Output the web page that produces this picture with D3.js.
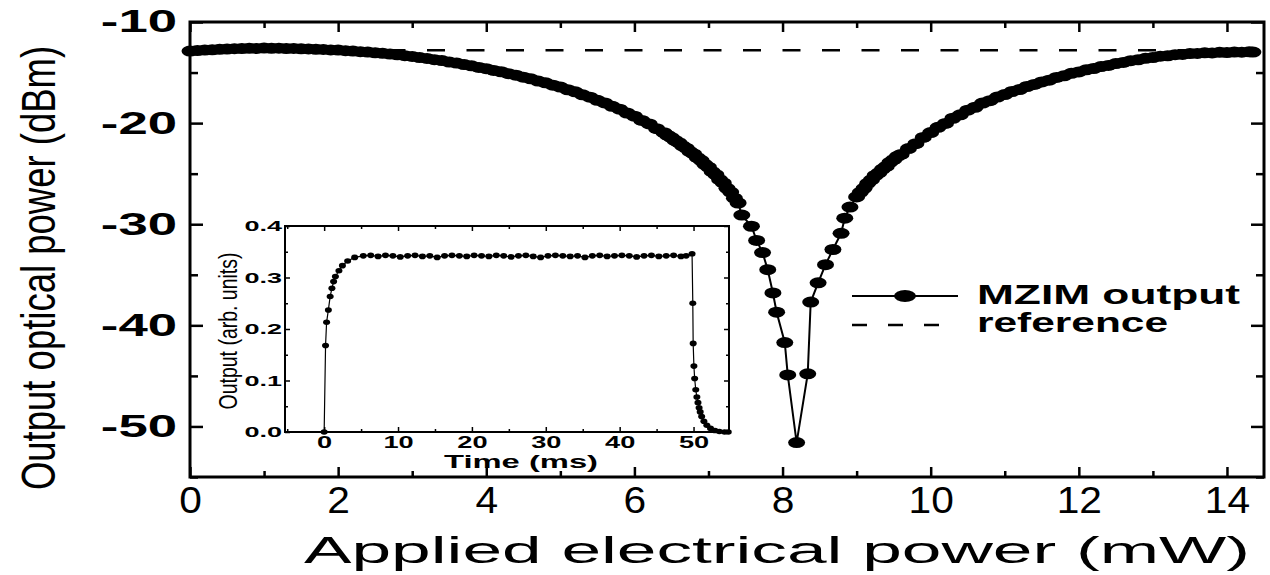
<!DOCTYPE html>
<html>
<head>
<meta charset="utf-8">
<script src="https://cdn.jsdelivr.net/npm/d3@7"></script>
<style>
  html, body { margin: 0; padding: 0; background: #fff; }
  svg { display: block; }
  text { font-family: "Liberation Sans", Arial, Helvetica, sans-serif; fill: #000; }
</style>
</head>
<body>
<svg id="chart" width="1270" height="575"></svg>
<script>
// ---- main sweep: MZIM output vs applied electrical power ----
const powerMW = [
  0.0, 0.1, 0.2, 0.3, 0.4, 0.5, 0.6, 0.7, 0.8, 0.9,
  1.0, 1.1, 1.2, 1.3, 1.4, 1.5, 1.6, 1.7, 1.8, 1.9,
  2.0, 2.1, 2.2, 2.3, 2.4, 2.5, 2.6, 2.7, 2.8, 2.9,
  3.0, 3.1, 3.2, 3.3, 3.4, 3.5, 3.6, 3.7, 3.8, 3.9,
  4.0, 4.1, 4.2, 4.3, 4.4, 4.5, 4.6, 4.7, 4.8, 4.9,
  5.0, 5.1, 5.2, 5.3, 5.4, 5.5, 5.6, 5.7, 5.8, 5.9,
  6.0, 6.1, 6.2, 6.3, 6.4, 6.45, 6.5, 6.55, 6.6, 6.65,
  6.7, 6.75, 6.8, 6.85, 6.9, 6.95, 7.0, 7.05, 7.1, 7.15,
  7.2, 7.25, 7.3, 7.35, 7.4, 7.45, 7.58, 7.65, 7.73, 7.80,
  7.87, 7.92, 8.03, 8.07, 8.19, 8.34, 8.38, 8.48, 8.58, 8.68,
  8.79, 8.84, 8.91, 9.00, 9.05, 9.1, 9.15, 9.2, 9.25, 9.3,
  9.35, 9.4, 9.45, 9.5, 9.55, 9.6, 9.7, 9.8, 9.9, 10.0,
  10.1, 10.2, 10.3, 10.4, 10.5, 10.6, 10.7, 10.8, 10.9, 11.0,
  11.1, 11.2, 11.3, 11.4, 11.5, 11.6, 11.7, 11.8, 11.9, 12.0,
  12.1, 12.2, 12.3, 12.4, 12.5, 12.6, 12.7, 12.8, 12.9, 13.0,
  13.1, 13.2, 13.3, 13.4, 13.5, 13.6, 13.7, 13.8, 13.9, 14.0,
  14.1, 14.2, 14.3, 14.35
];
const outputDbm = [
  -12.88, -12.82, -12.78, -12.75, -12.70, -12.68, -12.64, -12.63, -12.60, -12.61,
  -12.58, -12.60, -12.59, -12.62, -12.61, -12.65, -12.66, -12.70, -12.71, -12.76,
  -12.78, -12.84, -12.87, -12.93, -12.97, -13.04, -13.09, -13.17, -13.24, -13.33,
  -13.41, -13.52, -13.60, -13.73, -13.82, -13.96, -14.06, -14.21, -14.33, -14.49,
  -14.62, -14.79, -14.92, -15.11, -15.26, -15.46, -15.62, -15.84, -16.02, -16.25,
  -16.44, -16.70, -16.91, -17.20, -17.43, -17.75, -18.00, -18.34, -18.62, -19.00,
  -19.32, -19.73, -20.08, -20.55, -20.95, -21.22, -21.43, -21.72, -21.93, -22.25,
  -22.48, -22.82, -23.05, -23.42, -23.68, -24.08, -24.36, -24.80, -25.10, -25.58,
  -25.92, -26.45, -26.82, -27.42, -27.90, -29.1, -30.2, -31.6, -32.8, -34.5,
  -36.8, -38.7, -41.7, -44.9, -51.6, -44.8, -37.7, -35.8, -34.0, -32.5,
  -30.9, -29.4, -28.3, -27.3, -26.85, -26.45, -25.95, -25.62, -25.18, -24.92,
  -24.55, -24.28, -23.88, -23.62, -23.28, -23.10, -22.52, -22.03, -21.42, -20.93,
  -20.42, -20.03, -19.52, -19.18, -18.72, -18.43, -18.02, -17.78, -17.42, -17.18,
  -16.87, -16.68, -16.38, -16.17, -15.93, -15.75, -15.48, -15.32, -15.08, -14.94,
  -14.73, -14.60, -14.41, -14.30, -14.11, -14.00, -13.83, -13.74, -13.59, -13.52,
  -13.38, -13.34, -13.23, -13.21, -13.12, -13.11, -13.05, -13.06, -13.00, -13.02,
  -12.97, -12.99, -12.95, -12.97
];
const referenceDbm = -12.8;

// ---- inset: switching transient ----
const timeMs = [
  0, 0.19, 0.33, 0.57, 0.81, 1.05, 1.28, 1.52, 2.0, 2.47,
  3.18, 4.13, 5.3, 6.3, 7.3, 8.3, 9.3, 10.3, 11.3, 12.3,
  13.3, 14.3, 15.3, 16.3, 17.3, 18.3, 19.3, 20.3, 21.3, 22.3,
  23.3, 24.3, 25.3, 26.3, 27.3, 28.3, 29.3, 30.3, 31.3, 32.3,
  33.3, 34.3, 35.3, 36.3, 37.3, 38.3, 39.3, 40.3, 41.3, 42.3,
  43.3, 44.3, 45.3, 46.3, 47.3, 48.3, 49.0, 49.8, 49.9, 49.95,
  50.05, 50.15, 50.3, 50.45, 50.6, 50.75, 50.9, 51.1, 51.4, 51.8,
  52.3, 52.9, 53.5, 54.2, 54.7
];
const outputArb = [
  0, 0.168, 0.213, 0.237, 0.263, 0.279, 0.292, 0.302, 0.313, 0.323,
  0.332, 0.339, 0.342, 0.343, 0.341, 0.343, 0.342, 0.340, 0.342, 0.343,
  0.341, 0.342, 0.339, 0.342, 0.343, 0.342, 0.341, 0.343, 0.342, 0.341,
  0.343, 0.342, 0.340, 0.342, 0.343, 0.341, 0.339, 0.342, 0.343, 0.342,
  0.341, 0.342, 0.339, 0.342, 0.343, 0.341, 0.342, 0.343, 0.342, 0.340,
  0.342, 0.343, 0.341, 0.342, 0.343, 0.341, 0.342, 0.346, 0.250, 0.172,
  0.128, 0.104, 0.082, 0.068, 0.057, 0.047, 0.039, 0.030, 0.021, 0.013,
  0.007, 0.003, 0.001, 0.0, 0.0
];

// ---- tick values and labels ----
const powerTicks = [0, 2, 4, 6, 8, 10, 12, 14];
const powerMinorTicks = [1, 3, 5, 7, 9, 11, 13];
const dbmTicks = [-10, -20, -30, -40, -50];
const dbmMinorTicks = [-15, -25, -35, -45, -55];
const timeTicks = [0, 10, 20, 30, 40, 50];
const timeMinorTicks = [-5, 5, 15, 25, 35, 45];
const arbTicks = [0, 0.1, 0.2, 0.3, 0.4];
const arbMinorTicks = [0.05, 0.15, 0.25, 0.35];
const legendLabels = ["MZIM output", "reference"];
const xTitle = "Applied electrical power (mW)";
const yTitle = "Output optical power (dBm)";
const insetXTitle = "Time (ms)";
const insetYTitle = "Output (arb. units)";

const svg = d3.select("#chart");
svg.append("rect").attr("width", 1270).attr("height", 575).attr("fill", "#fff");

// widen a text element's glyphs by factor k
function widen(sel, k) {
  sel.each(function () {
    const w = this.getComputedTextLength();
    d3.select(this).attr("textLength", w * k).attr("lengthAdjust", "spacingAndGlyphs");
  });
}

// ================= main plot =================
const frame = { left: 190, right: 1264, top: 22, bottom: 477 };
const x = d3.scaleLinear().domain([0, 14.5]).range([frame.left, frame.right]);
const y = d3.scaleLinear().domain([-55, -10]).range([frame.bottom, frame.top]);

function styleAxis(g, width) {
  g.select(".domain").remove();
  g.selectAll(".tick line").attr("stroke", "#000").attr("stroke-width", width);
}

// bottom axis: majors with labels, minors without
const gxMinor = svg.append("g").attr("transform", `translate(0,${frame.bottom})`)
  .call(d3.axisBottom(x).tickValues(powerMinorTicks).tickSize(-6).tickFormat(""));
styleAxis(gxMinor, 2.5);
const gx = svg.append("g").attr("transform", `translate(0,${frame.bottom})`)
  .call(d3.axisBottom(x).tickValues(powerTicks).tickSize(-10).tickPadding(10).tickFormat(d => String(d)));
styleAxis(gx, 2.5);
gx.selectAll("text").attr("font-size", 37).attr("font-family", "Liberation Sans, Arial, sans-serif").call(widen, 1.1);

// top axis mirror
const gtMinor = svg.append("g").attr("transform", `translate(0,${frame.top})`)
  .call(d3.axisTop(x).tickValues(powerMinorTicks).tickSize(-6).tickFormat(""));
styleAxis(gtMinor, 2.5);
const gt = svg.append("g").attr("transform", `translate(0,${frame.top})`)
  .call(d3.axisTop(x).tickValues(powerTicks).tickSize(-10).tickFormat(""));
styleAxis(gt, 2.5);

// left axis
const gyMinor = svg.append("g").attr("transform", `translate(${frame.left},0)`)
  .call(d3.axisLeft(y).tickValues(dbmMinorTicks).tickSize(-8).tickFormat(""));
styleAxis(gyMinor, 2.5);
const gy = svg.append("g").attr("transform", `translate(${frame.left},0)`)
  .call(d3.axisLeft(y).tickValues(dbmTicks).tickSize(-13).tickPadding(13).tickFormat(d => String(d)));
styleAxis(gy, 2.5);
gy.selectAll("text").attr("font-size", 31).attr("font-weight", "bold")
  .attr("font-family", "Liberation Sans, Arial, sans-serif").call(widen, 1.7);

// right axis mirror
const grMinor = svg.append("g").attr("transform", `translate(${frame.right},0)`)
  .call(d3.axisRight(y).tickValues(dbmMinorTicks).tickSize(-8).tickFormat(""));
styleAxis(grMinor, 2.5);
const gr = svg.append("g").attr("transform", `translate(${frame.right},0)`)
  .call(d3.axisRight(y).tickValues(dbmTicks).tickSize(-13).tickFormat(""));
styleAxis(gr, 2.5);

// frame
svg.append("rect")
  .attr("x", frame.left).attr("y", frame.top)
  .attr("width", frame.right - frame.left).attr("height", frame.bottom - frame.top)
  .attr("fill", "none").attr("stroke", "#000").attr("stroke-width", 3);

// axis titles
svg.append("text")
  .attr("x", (304 + 1250) / 2).attr("y", 563)
  .attr("text-anchor", "middle").attr("font-size", 37)
  .attr("textLength", 946).attr("lengthAdjust", "spacingAndGlyphs")
  .text(xTitle);
// vertical title: narrow run length, tall glyphs (scaled across the baseline)
svg.append("text")
  .attr("transform", "translate(55,268) scale(1.34,1) rotate(-90)")
  .attr("text-anchor", "middle").attr("font-size", 36.5)
  .text(yTitle);

// reference level (dashed)
svg.append("line")
  .attr("x1", x(0)).attr("x2", x(14.35))
  .attr("y1", y(referenceDbm)).attr("y2", y(referenceDbm))
  .attr("stroke", "#000").attr("stroke-width", 2.5).attr("stroke-dasharray", "18,21.5");

// measured curve
const mainPts = powerMW.map((p, i) => [p, outputDbm[i]]);
svg.append("path")
  .datum(mainPts)
  .attr("fill", "none").attr("stroke", "#000").attr("stroke-width", 2)
  .attr("d", d3.line().x(d => x(d[0])).y(d => y(d[1])));
svg.append("g").selectAll("ellipse").data(mainPts).join("ellipse")
  .attr("cx", d => x(d[0])).attr("cy", d => y(d[1]))
  .attr("rx", 8.5).attr("ry", 5.5).attr("fill", "#000");

// legend
const legX0 = 852, legX1 = 958;
svg.append("line").attr("x1", legX0).attr("x2", legX1).attr("y1", 296).attr("y2", 296)
  .attr("stroke", "#000").attr("stroke-width", 2.2);
svg.append("ellipse").attr("cx", 905).attr("cy", 296).attr("rx", 11).attr("ry", 6).attr("fill", "#000");
svg.append("line").attr("x1", legX0).attr("x2", 942).attr("y1", 325).attr("y2", 325)
  .attr("stroke", "#000").attr("stroke-width", 2.5).attr("stroke-dasharray", "15,21");
svg.append("text").attr("x", 977).attr("y", 304)
  .attr("font-size", 27).attr("font-weight", "bold")
  .attr("textLength", 263).attr("lengthAdjust", "spacingAndGlyphs")
  .text(legendLabels[0]);
svg.append("text").attr("x", 977).attr("y", 332)
  .attr("font-size", 27).attr("font-weight", "bold")
  .attr("textLength", 191).attr("lengthAdjust", "spacingAndGlyphs")
  .text(legendLabels[1]);

// ================= inset =================
const inset = { left: 285, right: 729, top: 226, bottom: 432 };
const xi = d3.scaleLinear().domain([-5.3, 54.8]).range([inset.left, inset.right]);
const yi = d3.scaleLinear().domain([0, 0.4]).range([inset.bottom, inset.top]);
const gi = svg.append("g");

const ixMinor = gi.append("g").attr("transform", `translate(0,${inset.bottom})`)
  .call(d3.axisBottom(xi).tickValues(timeMinorTicks).tickSize(-3).tickFormat(""));
styleAxis(ixMinor, 1.5);
const ix = gi.append("g").attr("transform", `translate(0,${inset.bottom})`)
  .call(d3.axisBottom(xi).tickValues(timeTicks).tickSize(-5).tickPadding(4).tickFormat(d => String(d)));
styleAxis(ix, 1.5);
ix.selectAll("text").attr("font-size", 17).attr("font-weight", "bold")
  .attr("font-family", "Liberation Sans, Arial, sans-serif").call(widen, 1.6);

const itMinor = gi.append("g").attr("transform", `translate(0,${inset.top})`)
  .call(d3.axisTop(xi).tickValues(timeMinorTicks).tickSize(-3).tickFormat(""));
styleAxis(itMinor, 1.5);
const it = gi.append("g").attr("transform", `translate(0,${inset.top})`)
  .call(d3.axisTop(xi).tickValues(timeTicks).tickSize(-5).tickFormat(""));
styleAxis(it, 1.5);

const iyMinor = gi.append("g").attr("transform", `translate(${inset.left},0)`)
  .call(d3.axisLeft(yi).tickValues(arbMinorTicks).tickSize(-3).tickFormat(""));
styleAxis(iyMinor, 1.5);
const iy = gi.append("g").attr("transform", `translate(${inset.left},0)`)
  .call(d3.axisLeft(yi).tickValues(arbTicks).tickSize(-5).tickPadding(3).tickFormat(d3.format(".1f")));
styleAxis(iy, 1.5);
iy.selectAll("text").attr("font-size", 15).attr("font-weight", "bold")
  .attr("font-family", "Liberation Sans, Arial, sans-serif").call(widen, 1.8);

const irMinor = gi.append("g").attr("transform", `translate(${inset.right},0)`)
  .call(d3.axisRight(yi).tickValues(arbMinorTicks).tickSize(-3).tickFormat(""));
styleAxis(irMinor, 1.5);
const ir = gi.append("g").attr("transform", `translate(${inset.right},0)`)
  .call(d3.axisRight(yi).tickValues(arbTicks).tickSize(-5).tickFormat(""));
styleAxis(ir, 1.5);

gi.append("rect")
  .attr("x", inset.left).attr("y", inset.top)
  .attr("width", inset.right - inset.left).attr("height", inset.bottom - inset.top)
  .attr("fill", "none").attr("stroke", "#000").attr("stroke-width", 2);

gi.append("text")
  .attr("x", 521).attr("y", 468)
  .attr("text-anchor", "middle").attr("font-size", 19).attr("font-weight", "bold")
  .attr("textLength", 154).attr("lengthAdjust", "spacingAndGlyphs")
  .text(insetXTitle);
gi.append("text")
  .attr("transform", "translate(237,331) scale(1.28,1) rotate(-90)")
  .attr("text-anchor", "middle").attr("font-size", 19.5)
  .text(insetYTitle);

const insetPts = timeMs.map((t, i) => [t, outputArb[i]]);
gi.append("path")
  .datum(insetPts)
  .attr("fill", "none").attr("stroke", "#000").attr("stroke-width", 1.2)
  .attr("d", d3.line().x(d => xi(d[0])).y(d => yi(d[1])));
gi.append("g").selectAll("ellipse").data(insetPts).join("ellipse")
  .attr("cx", d => xi(d[0])).attr("cy", d => yi(d[1]))
  .attr("rx", 3.5).attr("ry", 2.8).attr("fill", "#000");
</script>
</body>
</html>
